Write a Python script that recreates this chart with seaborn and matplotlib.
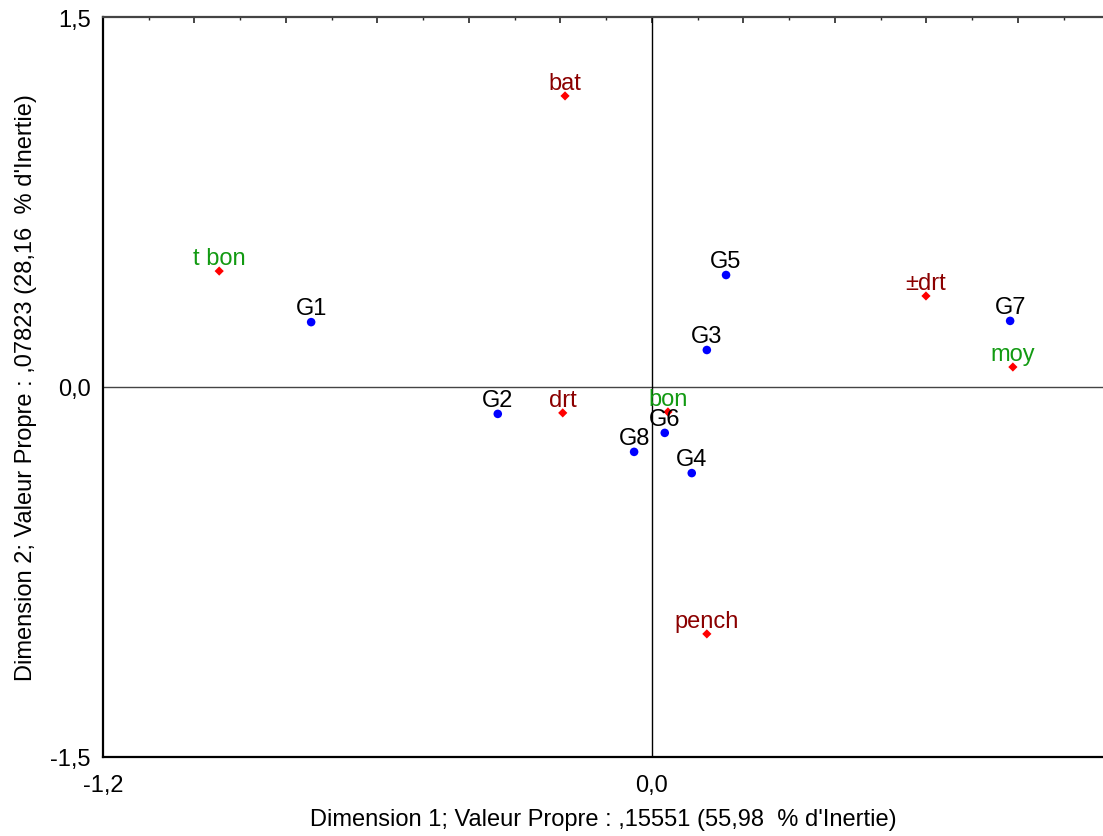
import numpy as np
import pandas as pd
import matplotlib
matplotlib.use("Agg")
import matplotlib.pyplot as plt
import seaborn as sns

# --- column points (groups) ---
grp_labels = ['G1', 'G2', 'G3', 'G4', 'G5', 'G6', 'G7', 'G8']
grp_x = [-0.745, -0.337, 0.120, 0.087, 0.162, 0.028, 0.783, -0.039]
grp_y = [0.263, -0.109, 0.150, -0.349, 0.454, -0.186, 0.268, -0.263]

# --- row points (modalities) ---
mod_labels = ['t bon', 'bat', 'drt', 'bon', '±drt', 'moy', 'pench']
mod_x = [-0.946, -0.190, -0.195, 0.035, 0.599, 0.789, 0.120]
mod_y = [0.470, 1.180, -0.105, -0.101, 0.369, 0.081, -1.001]
mod_kind = ['green', 'red', 'red', 'green', 'red', 'green', 'red']

x_label = "Dimension 1; Valeur Propre : ,15551 (55,98  % d'Inertie)"
y_label = "Dimension 2; Valeur Propre : ,07823 (28,16  % d'Inertie)"

df_grp = pd.DataFrame({'x': grp_x, 'y': grp_y, 'label': grp_labels})
df_mod = pd.DataFrame({'x': mod_x, 'y': mod_y, 'label': mod_labels, 'kind': mod_kind})

sns.set_style("white")
plt.rcParams['font.family'] = ['Liberation Sans', 'DejaVu Sans']

fig = plt.figure(figsize=(11.03, 8.37), dpi=100)
ax = fig.add_axes([103 / 1103, 79 / 837, 1 - 103 / 1103, (758 - 18) / 837])

# reference lines through the origin
ax.axhline(0, color='#444444', lw=1.0, zorder=1)
ax.axvline(0, color='black', lw=1.0, zorder=1)

sns.scatterplot(data=df_grp, x='x', y='y', ax=ax, color='#0000ff', marker='o',
                s=38, edgecolor='none', zorder=3)
sns.scatterplot(data=df_mod, x='x', y='y', ax=ax, color='#ff0000', marker='D',
                s=22, edgecolor='none', zorder=3)

for _, r in df_grp.iterrows():
    ax.annotate(r['label'], (r['x'], r['y']), xytext=(0, 6), textcoords='offset points',
                ha='center', va='baseline', fontsize=17, color='black', zorder=4)

label_colors = {'red': '#8b0000', 'green': '#129a12'}
for _, r in df_mod.iterrows():
    ax.annotate(r['label'], (r['x'], r['y']), xytext=(0, 5), textcoords='offset points',
                ha='center', va='baseline', fontsize=17, color=label_colors[r['kind']], zorder=4)

ax.set_xlim(-1.2, 0.986)
ax.set_ylim(-1.5, 1.5)

# ticks: labels only on a few positions, small inward ticks
ax.set_xticks([-1.2, 0.0])
ax.set_xticklabels(['-1,2', '0,0'])
ax.set_xticks(np.arange(-0.9, 0.95, 0.3), minor=True)
ax.set_yticks([-1.5, 0.0, 1.5])
ax.set_yticklabels(['-1,5', '0,0', '1,5'])
ax.set_yticks([-1.125, -0.75, -0.375, 0.375, 0.75, 1.125], minor=True)
ax.tick_params(axis='both', which='both', direction='in', length=3, width=1,
               labelsize=17, colors='black')
ax.tick_params(axis='x', which='major', pad=12)
ax.tick_params(axis='y', which='major', pad=9)

# top axis ticks every 0.1
top = ax.secondary_xaxis('top')
top.set_xticks(np.arange(-1.0, 0.95, 0.2))
top.set_xticks(np.arange(-1.1, 0.95, 0.2), minor=True)
top.tick_params(which='major', direction='in', length=4, width=1.2, labeltop=False)
top.tick_params(which='minor', direction='in', length=2.5, width=1.0)
top.spines['top'].set_visible(False)

for side in ['left', 'bottom']:
    ax.spines[side].set_color('black')
    ax.spines[side].set_linewidth(1.6)
ax.spines['top'].set_color('#444444')
ax.spines['top'].set_linewidth(1.6)
ax.spines['right'].set_visible(False)

ax.set_xlabel(x_label, fontsize=17, color='black', labelpad=9)
ax.set_ylabel(y_label, fontsize=17, color='black', labelpad=9)

fig.savefig('out.png', dpi=100)
